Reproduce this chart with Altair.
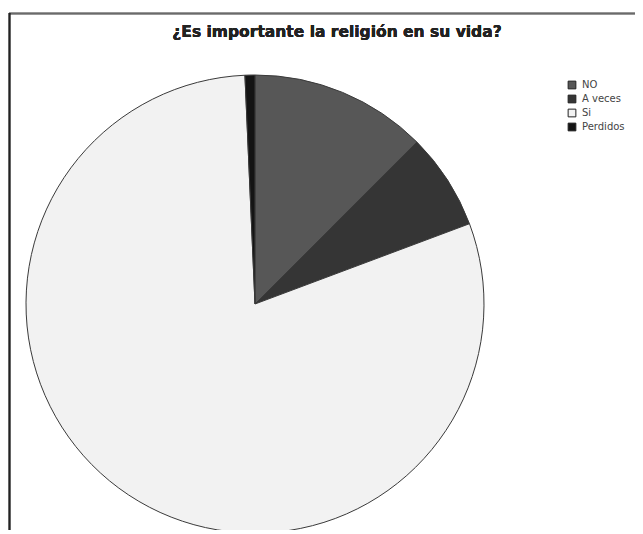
import altair as alt
import pandas as pd

title_text = "¿Es importante la religión en su vida?"
categories = ["NO", "A veces", "Si", "Perdidos"]
percent = [12.5, 6.8, 80.0, 0.7]
colors = ["#575757", "#353535", "#f2f2f2", "#141414"]

df = pd.DataFrame({"categoria": categories, "porcentaje": percent,
                   "orden": list(range(len(categories)))})

pie = alt.Chart(df).mark_arc(stroke="#3a3a3a", strokeWidth=1, radius=229).encode(
    theta=alt.Theta("porcentaje:Q", stack=True),
    order=alt.Order("orden:Q"),
    color=alt.Color(
        "categoria:N",
        scale=alt.Scale(domain=categories, range=colors),
        sort=categories,
        legend=alt.Legend(
            title=None, orient="none", legendX=558, legendY=67,
            symbolType="square", symbolSize=60, symbolStrokeColor="#222222",
            symbolStrokeWidth=1, labelFontSize=10, labelFont="DejaVu Sans",
            labelColor="#444444", rowPadding=2, labelOffset=5,
        ),
    ),
    x=alt.value(246),
    y=alt.value(291),
)

title = alt.Chart(df).mark_text(
    text=title_text, font="DejaVu Sans", fontSize=15.5, fontWeight="bold",
    color="#222222", align="center", baseline="alphabetic",
).encode(x=alt.value(328), y=alt.value(24))

frame_top = alt.Chart(df).mark_rule(color="#6a6a6a", strokeWidth=1.5).encode(
    x=alt.value(0), x2=alt.value(640), y=alt.value(0.5)
)
frame_left = alt.Chart(df).mark_rule(color="#222222", strokeWidth=1.5).encode(
    x=alt.value(0.5), y=alt.value(0), y2=alt.value(600)
)

chart = alt.layer(frame_top, frame_left, pie, title).properties(
    width=627, height=522,
    autosize=alt.AutoSizeParams(type="fit", contains="padding"),
    padding={"top": 4, "left": 0, "right": 0, "bottom": 0},
).configure_view(stroke=None)

chart.save("out.html", embed_options={"renderer": "svg", "actions": False})
